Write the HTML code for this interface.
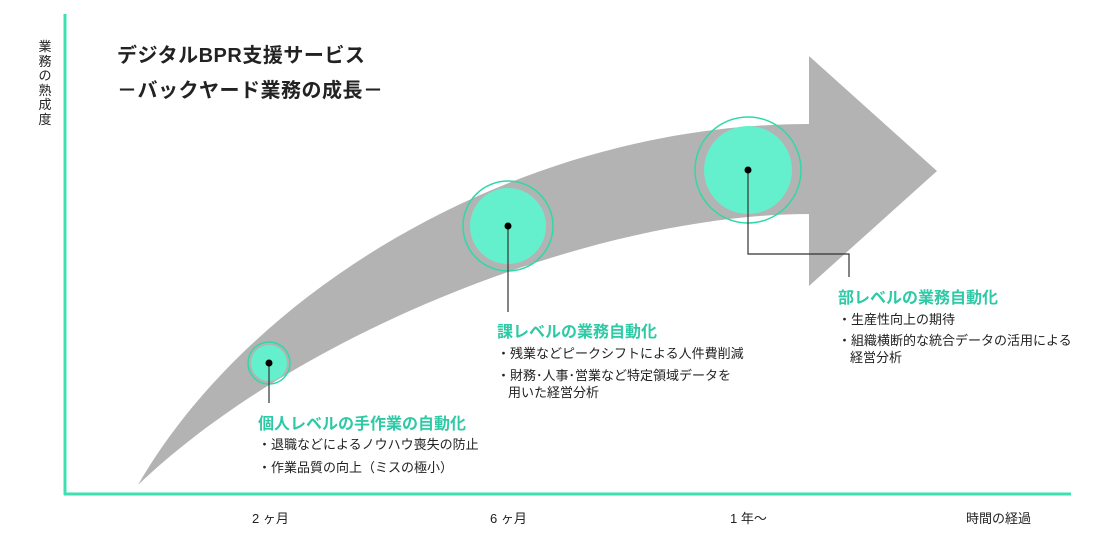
<!DOCTYPE html>
<html><head><meta charset="utf-8"><style>
body{margin:0;width:1120px;height:540px;background:#fff;overflow:hidden;position:relative;font-family:"Liberation Sans","Noto Sans CJK JP",sans-serif;color:#222}
.t{position:absolute;white-space:nowrap}
.h{font-weight:bold;font-size:16px;color:#2ec9a5}
.b{font-size:13px}
</style></head><body>
<svg width="1120" height="540" style="position:absolute;left:0;top:0">
<line x1="65" y1="14" x2="65" y2="495" stroke="#3de0b0" stroke-width="3"/>
<line x1="64" y1="494" x2="1071" y2="494" stroke="#3de0b0" stroke-width="3"/>
<path d="M138,485 C250,290 520,124 809,124 L809,56 L937,171 L809,286 L809,214 C600,214 300,330 138,485 Z" fill="#b3b3b3"/>
<circle cx="269" cy="363" r="18" fill="#64f0cc"/>
<circle cx="269" cy="363" r="21" fill="none" stroke="#2ed9a8" stroke-width="1.5"/>
<circle cx="508" cy="226" r="38" fill="#64f0cc"/>
<circle cx="508" cy="226" r="45" fill="none" stroke="#2ed9a8" stroke-width="1.5"/>
<circle cx="748" cy="170" r="44" fill="#64f0cc"/>
<circle cx="748" cy="170" r="53" fill="none" stroke="#2ed9a8" stroke-width="1.5"/>
<g stroke="#333" stroke-width="1.2" fill="none">
<line x1="269" y1="363" x2="269" y2="403"/>
<line x1="508" y1="226" x2="508" y2="312"/>
<polyline points="748,170 748,254 849,254 849,277"/>
</g>
<circle cx="269" cy="363" r="3.5" fill="#000"/>
<circle cx="508" cy="226" r="3.5" fill="#000"/>
<circle cx="748" cy="170" r="3.5" fill="#000"/>
</svg>
<div class="t" style="left:38px;top:40px;width:14px;font-size:13px;line-height:14.5px;white-space:normal;text-align:center">業務の熟成度</div>
<div class="t" style="left:117px;top:39px;font-size:20px;font-weight:bold;letter-spacing:0.5px">デジタルBPR支援サービス</div>
<div class="t" style="left:117px;top:74px;font-size:20px;font-weight:bold;letter-spacing:0.5px">－バックヤード業務の成長－</div>
<div class="t h" style="left:258px;top:410px">個人レベルの手作業の自動化</div>
<div class="t b" style="left:258px;top:434px">・退職などによるノウハウ喪失の防止</div>
<div class="t b" style="left:258px;top:457px">・作業品質の向上（ミスの極小）</div>
<div class="t h" style="left:497px;top:318px">課レベルの業務自動化</div>
<div class="t b" style="left:497px;top:343px">・残業などピークシフトによる人件費削減</div>
<div class="t b" style="left:497px;top:365px">・財務･人事･営業など特定領域データを</div>
<div class="t b" style="left:508px;top:382px">用いた経営分析</div>
<div class="t h" style="left:838px;top:284px">部レベルの業務自動化</div>
<div class="t b" style="left:838px;top:309px">・生産性向上の期待</div>
<div class="t b" style="left:838px;top:330px">・組織横断的な統合データの活用による</div>
<div class="t b" style="left:850px;top:347px">経営分析</div>
<div class="t b" style="left:252px;top:508px">2 ヶ月</div>
<div class="t b" style="left:490px;top:508px">6 ヶ月</div>
<div class="t b" style="left:730px;top:508px">1 年〜</div>
<div class="t b" style="left:966px;top:508px">時間の経過</div>
</body></html>
